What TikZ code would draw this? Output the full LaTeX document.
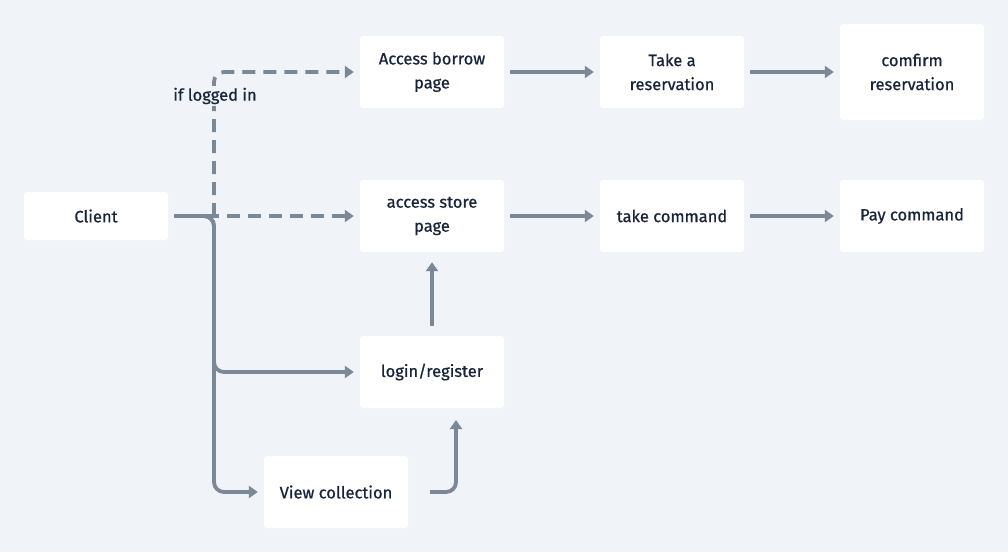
\documentclass[tikz,border=0pt]{standalone}
\usepackage{fontspec}
\setmainfont{Fira Sans}[FakeBold=0.7]
\usetikzlibrary{arrows.meta,calc}
\definecolor{bg}{HTML}{F0F3F7}
\definecolor{ln}{HTML}{7A8897}
\definecolor{tx}{HTML}{18243A}
\tikzset{
  box/.style={fill=white, draw=none, rounded corners=3pt, minimum width=144pt, minimum height=72pt,
    align=center, text=tx, font=\fontsize{16.5}{24}\selectfont, inner sep=0pt},
  conn/.style={draw=ln, line width=3.8pt, -{Triangle[length=9pt,width=12pt]}, shorten >=6pt},
  dconn/.style={conn, dash pattern=on 13pt off 8pt},
  lbl/.style={fill=bg, text=tx, font=\fontsize{16.5}{18}\selectfont, inner sep=2pt}
}
\begin{document}
\begin{tikzpicture}[x=1pt,y=-1pt]
\fill[bg] (0,0) rectangle (1008,552);
\useasboundingbox (0,0) rectangle (1008,552);
\node[box, minimum height=48pt] (client) at (96,216) {Client};
\node[box] (borrow) at (432,72) {Access borrow\\page};
\node[box] (take) at (672,72) {Take a\\reservation};
\node[box, minimum height=96pt] (confirm) at (912,72) {comfirm\\reservation};
\node[box] (store) at (432,216) {access store\\page};
\node[box] (tcmd) at (672,216) {take command};
\node[box] (pay) at (912,216) {Pay command};
\node[box] (login) at (432,372) {login/register};
\node[box] (view) at (336,492) {View collection};
\coordinate (j) at (214,216);
\coordinate (up) at (456,408);
% solid branches from Client
\draw[conn, rounded corners=10pt, shorten <=6pt] (client.east) -| ($(j)+(0,156)$) -- (login.west);
\draw[conn, rounded corners=10pt, shorten <=6pt] (client.east) -| ($(j)+(0,276)$) -- (view.west);
% dashed branches
\draw[dconn] ($(j)+(-8,0)$) -- (store.west);
\draw[dconn, rounded corners=10pt] (j) |- (borrow.west);
\node[lbl] (cond) at (215,96) {if logged in};
% rows
\draw[conn, shorten <=6pt] (borrow) -- (take);
\draw[conn, shorten <=6pt] (take) -- (confirm);
\draw[conn, shorten <=6pt] (store) -- (tcmd);
\draw[conn, shorten <=6pt] (tcmd) -- (pay);
\draw[conn, shorten <=10pt, shorten >=10pt] (login) -- (store);
\draw[conn, rounded corners=10pt, shorten <=22pt, shorten >=12pt] (view.east) -| (up);
\end{tikzpicture}
\end{document}
